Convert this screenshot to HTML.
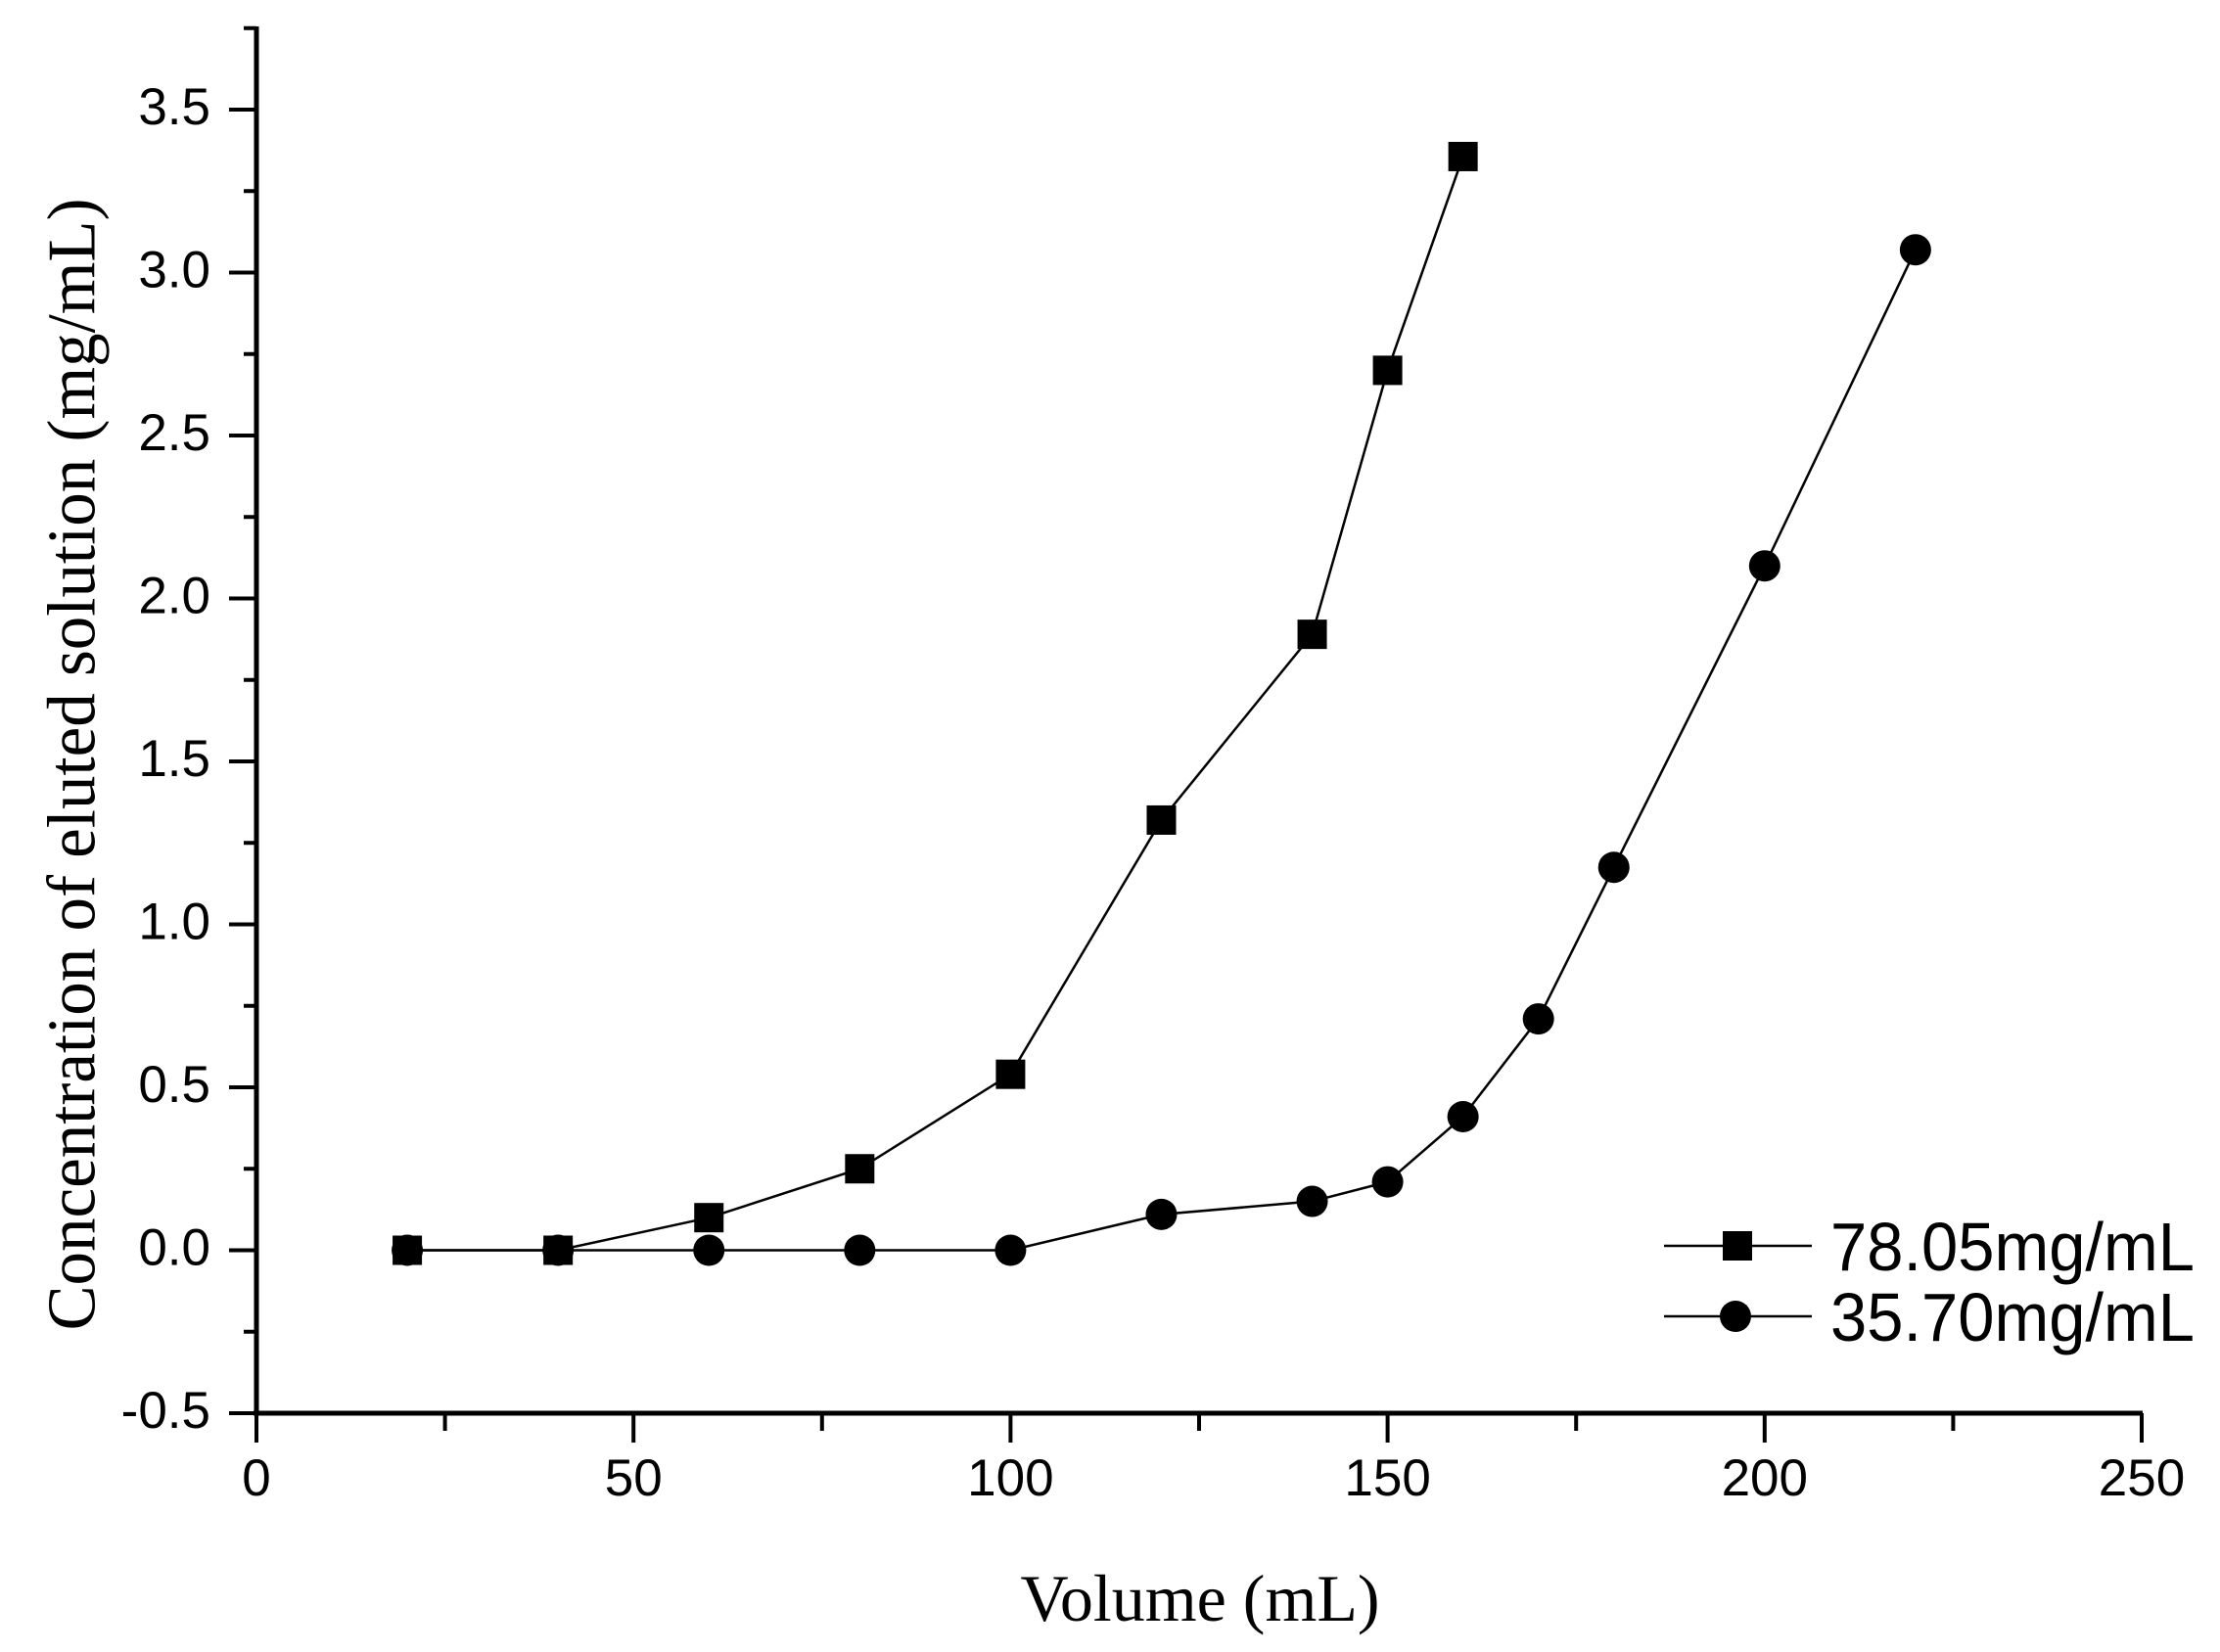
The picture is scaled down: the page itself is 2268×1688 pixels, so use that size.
<!DOCTYPE html>
<html><head><meta charset="utf-8"><style>html,body{margin:0;padding:0;background:#fff}svg{display:block}</style></head>
<body>
<svg id="c" width="2268" height="1688" viewBox="0 0 2268 1688" xmlns="http://www.w3.org/2000/svg">
<g id="g"></g>
<text x="1226" y="1656" font-family="Liberation Serif, serif" font-size="68" text-anchor="middle">Volume (mL)</text>
<text transform="translate(74,781) rotate(-90)" font-family="Liberation Serif, serif" font-size="70" text-anchor="middle" textLength="1157" lengthAdjust="spacingAndGlyphs" dominant-baseline="central">Concentration of eluted solution (mg/mL)</text>
<line x1="1700" y1="1273" x2="1851" y2="1273" stroke="#000" stroke-width="2.5"/>
<rect x="1760" y="1258" width="30" height="30" fill="#000"/>
<text x="1870" y="1298" font-family="Liberation Sans, sans-serif" font-size="70" textLength="372" lengthAdjust="spacingAndGlyphs">78.05mg/mL</text>
<line x1="1700" y1="1345" x2="1851" y2="1345" stroke="#000" stroke-width="2.5"/>
<circle cx="1773" cy="1345" r="16" fill="#000"/>
<text x="1870" y="1370" font-family="Liberation Sans, sans-serif" font-size="70" textLength="372" lengthAdjust="spacingAndGlyphs">35.70mg/mL</text>
</svg>
<script>
var g=document.getElementById('g'),NS='http://www.w3.org/2000/svg';
function el(t,a,txt){var e=document.createElementNS(NS,t);for(var k in a)e.setAttribute(k,a[k]);if(txt!=null)e.textContent=txt;g.appendChild(e);return e;}
function X(v){return 262+v*7.704;}function Y(c){return 1277.5-333*c;}
el('line',{x1:262,y1:27,x2:262,y2:1446,stroke:'#000','stroke-width':5});
el('line',{x1:259,y1:1444,x2:2189,y2:1444,stroke:'#000','stroke-width':5});
for(var i=0;i<=17;i++){var c=-0.5+i*0.25,y=Y(c),maj=(i%2==0);
 el('line',{x1:maj?234:249,y1:y,x2:262,y2:y,stroke:'#000','stroke-width':4});
 if(maj)el('text',{x:215,y:y+15,'font-family':'Liberation Sans, sans-serif','font-size':53,'text-anchor':'end'},c.toFixed(1));}
for(var i=0;i<=10;i++){var v=i*25,x=X(v),maj=(i%2==0);
 el('line',{x1:x,y1:1444,x2:x,y2:maj?1474:1462,stroke:'#000','stroke-width':4});
 if(maj)el('text',{x:x,y:1528,'font-family':'Liberation Sans, sans-serif','font-size':53,'text-anchor':'middle'},String(v));}
var s=[[20,0],[40,0],[60,0.1],[80,0.25],[100,0.54],[120,1.32],[140,1.89],[150,2.70],[160,3.356]];
var c2=[[20,0],[40,0],[60,0],[80,0],[100,0],[120,0.11],[140,0.15],[150,0.21],[160,0.41],[170,0.71],[180,1.175],[200,2.10],[220,3.07]];
function pl(d){el('polyline',{points:d.map(function(p){return X(p[0])+','+Y(p[1]);}).join(' '),fill:'none',stroke:'#000','stroke-width':2.5});}
pl(s);pl(c2);
s.forEach(function(p){el('rect',{x:X(p[0])-15,y:Y(p[1])-15,width:30,height:30,fill:'#000'});});
c2.forEach(function(p){el('circle',{cx:X(p[0]),cy:Y(p[1]),r:16,fill:'#000'});});
</script>
</body></html>
